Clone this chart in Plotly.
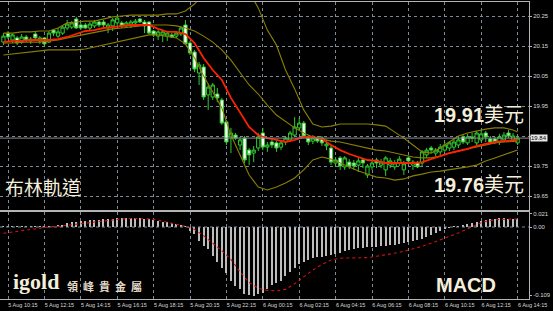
import plotly.graph_objects as go

# ---------------- data ----------------
opens = [20.163, 20.193, 20.170, 20.177, 20.163, 20.180, 20.167, 20.190, 20.167, 20.177,
         20.163, 20.203, 20.183, 20.193, 20.210, 20.213, 20.240, 20.220, 20.220, 20.210,
         20.217, 20.230, 20.230, 20.210, 20.217, 20.227, 20.227, 20.217, 20.217, 20.227,
         20.240, 20.230, 20.230, 20.200, 20.183, 20.187, 20.183, 20.187, 20.183, 20.190,
         20.220, 20.160, 20.130, 20.060, 20.080, 19.987, 19.980, 19.990, 19.970, 19.897,
         19.847, 19.853, 19.820, 19.843, 19.803, 19.793, 19.810, 19.860, 19.813, 19.830,
         19.827, 19.813, 19.830, 19.837, 19.853, 19.877, 19.893, 19.843, 19.833, 19.843,
         19.843, 19.817, 19.810, 19.760, 19.777, 19.747, 19.763, 19.760, 19.753, 19.770,
         19.720, 19.747, 19.770, 19.753, 19.737, 19.753, 19.747, 19.760, 19.737, 19.777,
         19.753, 19.760, 19.760, 19.787, 19.810, 19.793, 19.797, 19.803, 19.810, 19.813,
         19.820, 19.847, 19.827, 19.847, 19.827, 19.837, 19.860, 19.840, 19.840, 19.830,
         19.837, 19.860, 19.837, 19.827]
highs = [20.193, 20.200, 20.193, 20.183, 20.190, 20.187, 20.180, 20.197, 20.183, 20.180,
         20.200, 20.207, 20.210, 20.220, 20.237, 20.233, 20.247, 20.227, 20.227, 20.230,
         20.237, 20.233, 20.237, 20.227, 20.243, 20.253, 20.233, 20.233, 20.237, 20.240,
         20.243, 20.237, 20.233, 20.203, 20.203, 20.203, 20.200, 20.193, 20.200, 20.217,
         20.237, 20.167, 20.137, 20.097, 20.090, 20.023, 20.027, 20.010, 19.977, 19.903,
         19.877, 19.860, 19.847, 19.850, 19.810, 19.817, 19.860, 19.877, 19.830, 19.837,
         19.833, 19.837, 19.850, 19.867, 19.913, 19.910, 19.900, 19.853, 19.853, 19.850,
         19.850, 19.837, 19.820, 19.780, 19.783, 19.783, 19.773, 19.770, 19.777, 19.777,
         19.757, 19.770, 19.777, 19.773, 19.783, 19.777, 19.770, 19.783, 19.767, 19.783,
         19.770, 19.767, 19.803, 19.810, 19.817, 19.810, 19.823, 19.830, 19.833, 19.843,
         19.850, 19.857, 19.857, 19.860, 19.867, 19.870, 19.867, 19.850, 19.847, 19.857,
         19.863, 19.870, 19.860, 19.853]
lows = [20.153, 20.173, 20.160, 20.153, 20.157, 20.163, 20.157, 20.170, 20.157, 20.147,
        20.160, 20.183, 20.177, 20.187, 20.203, 20.207, 20.207, 20.203, 20.207, 20.203,
        20.210, 20.213, 20.213, 20.193, 20.200, 20.213, 20.210, 20.210, 20.210, 20.220,
        20.227, 20.193, 20.190, 20.180, 20.170, 20.163, 20.167, 20.177, 20.177, 20.183,
        20.153, 20.120, 20.063, 20.020, 19.970, 19.937, 19.970, 19.963, 19.887, 19.820,
        19.793, 19.837, 19.803, 19.760, 19.753, 19.763, 19.800, 19.803, 19.797, 19.810,
        19.797, 19.803, 19.820, 19.830, 19.847, 19.870, 19.843, 19.820, 19.823, 19.827,
        19.817, 19.803, 19.753, 19.747, 19.737, 19.737, 19.740, 19.737, 19.730, 19.743,
        19.710, 19.737, 19.743, 19.743, 19.717, 19.743, 19.737, 19.750, 19.720, 19.760,
        19.737, 19.743, 19.750, 19.777, 19.793, 19.783, 19.787, 19.797, 19.800, 19.803,
        19.810, 19.823, 19.820, 19.830, 19.817, 19.830, 19.830, 19.823, 19.823, 19.820,
        19.830, 19.843, 19.830, 19.820]
closes = [20.183, 20.180, 20.187, 20.160, 20.180, 20.170, 20.173, 20.177, 20.177, 20.157,
          20.193, 20.193, 20.197, 20.213, 20.223, 20.227, 20.210, 20.210, 20.210, 20.223,
          20.230, 20.220, 20.220, 20.220, 20.237, 20.243, 20.217, 20.227, 20.230, 20.233,
          20.230, 20.217, 20.193, 20.187, 20.197, 20.197, 20.193, 20.180, 20.193, 20.210,
          20.157, 20.127, 20.073, 20.087, 19.980, 20.013, 20.020, 19.977, 19.893, 19.830,
          19.860, 19.843, 19.837, 19.770, 19.787, 19.803, 19.847, 19.813, 19.820, 19.820,
          19.810, 19.827, 19.843, 19.860, 19.880, 19.893, 19.850, 19.830, 19.843, 19.833,
          19.827, 19.823, 19.763, 19.770, 19.750, 19.777, 19.750, 19.750, 19.767, 19.760,
          19.750, 19.760, 19.760, 19.763, 19.777, 19.767, 19.760, 19.773, 19.757, 19.767,
          19.763, 19.747, 19.797, 19.803, 19.803, 19.803, 19.813, 19.820, 19.827, 19.830,
          19.837, 19.830, 19.847, 19.843, 19.860, 19.857, 19.847, 19.830, 19.830, 19.847,
          19.853, 19.850, 19.850, 19.843]
candle_idx = list(range(len(opens)))  # 15-minute bars, 5 Aug 10:00 ... 6 Aug 14:15

# indicator samples (every other bar + last bar)
line_idx = list(range(0, 113, 2)) + [113]
bb_upper = [20.193, 20.193, 20.197, 20.197, 20.200, 20.200, 20.210, 20.227, 20.230, 20.233,
            20.233, 20.240, 20.247, 20.250, 20.253, 20.253, 20.253, 20.253, 20.257, 20.257,
            20.267, 20.290, 20.323, 20.350, 20.370, 20.377, 20.363, 20.330, 20.277, 20.203,
            20.153, 20.070, 20.007, 19.937, 19.890, 19.880, 19.883, 19.890, 19.890, 19.890,
            19.890, 19.887, 19.883, 19.863, 19.843, 19.820, 19.797, 19.793, 19.810, 19.830,
            19.850, 19.860, 19.867, 19.873, 19.877, 19.877, 19.870, 19.863]
bb_middle = [20.160, 20.160, 20.163, 20.163, 20.163, 20.167, 20.170, 20.177, 20.183, 20.190,
             20.197, 20.203, 20.207, 20.210, 20.213, 20.217, 20.220, 20.220, 20.220, 20.217,
             20.210, 20.200, 20.183, 20.163, 20.137, 20.103, 20.063, 20.020, 19.990, 19.953,
             19.920, 19.897, 19.877, 19.860, 19.847, 19.840, 19.833, 19.830, 19.823, 19.817,
             19.810, 19.803, 19.800, 19.793, 19.787, 19.780, 19.777, 19.777, 19.783, 19.793,
             19.800, 19.807, 19.813, 19.820, 19.827, 19.830, 19.833, 19.833]
bb_lower = [20.120, 20.123, 20.127, 20.130, 20.133, 20.137, 20.137, 20.137, 20.137, 20.140,
            20.147, 20.153, 20.160, 20.167, 20.173, 20.180, 20.187, 20.187, 20.183, 20.177,
            20.157, 20.110, 20.050, 19.997, 19.943, 19.853, 19.787, 19.720, 19.680, 19.670,
            19.680, 19.693, 19.710, 19.737, 19.770, 19.780, 19.773, 19.760, 19.747, 19.733,
            19.723, 19.713, 19.710, 19.703, 19.707, 19.717, 19.723, 19.730, 19.733, 19.737,
            19.743, 19.747, 19.753, 19.767, 19.777, 19.787, 19.797, 19.803]
ma_red = [20.163, 20.167, 20.167, 20.170, 20.170, 20.170, 20.173, 20.180, 20.190, 20.200,
          20.203, 20.210, 20.213, 20.217, 20.220, 20.220, 20.220, 20.207, 20.197, 20.197,
          20.190, 20.160, 20.110, 20.070, 20.037, 19.977, 19.927, 19.880, 19.853, 19.843,
          19.837, 19.830, 19.837, 19.847, 19.847, 19.840, 19.820, 19.803, 19.790, 19.780,
          19.770, 19.767, 19.760, 19.760, 19.760, 19.760, 19.763, 19.773, 19.783, 19.793,
          19.800, 19.807, 19.817, 19.823, 19.830, 19.833, 19.837, 19.837]

macd_hist = [0.0005, 0.0005, 0.0006, 0.0006, 0.0007, 0.0007, 0.0008, 0.0008, 0.0009, 0.0010,
             0.0012, 0.0016, 0.0021, 0.0040, 0.0064, 0.0074, 0.0083, 0.0094, 0.0102, 0.0108,
             0.0113, 0.0118, 0.0122, 0.0127, 0.0133, 0.0138, 0.0139, 0.0140, 0.0140, 0.0140,
             0.0139, 0.0134, 0.0125, 0.0110, 0.0098, 0.0088, 0.0075, 0.0062, 0.0050, 0.0035,
             0.0010, -0.0064, -0.0120, -0.0220, -0.0300, -0.0360, -0.0460, -0.0560, -0.0660, -0.0740,
             -0.0870, -0.0950, -0.1000, -0.1075, -0.1090, -0.1100, -0.1080, -0.1060, -0.1000, -0.0930,
             -0.0900, -0.0860, -0.0790, -0.0720, -0.0650, -0.0600, -0.0560, -0.0530, -0.0500, -0.0485,
             -0.0480, -0.0470, -0.0450, -0.0430, -0.0410, -0.0390, -0.0370, -0.0355, -0.0340, -0.0340,
             -0.0325, -0.0320, -0.0320, -0.0305, -0.0300, -0.0290, -0.0282, -0.0275, -0.0260, -0.0245,
             -0.0230, -0.0210, -0.0185, -0.0160, -0.0125, -0.0090, -0.0060, -0.0030, -0.0010, 0.0003,
             0.0008, 0.0021, 0.0045, 0.0065, 0.0085, 0.0103, 0.0115, 0.0128, 0.0135, 0.0139,
             0.0139, 0.0135, 0.0130, 0.0128]
macd_signal = [-0.0100, -0.0080, -0.0060, -0.0040, -0.0015, 0.0000, 0.0010, 0.0022, 0.0045, 0.0062,
               0.0080, 0.0100, 0.0118, 0.0130, 0.0137, 0.0139, 0.0130, 0.0110, 0.0080, 0.0045,
               0.0010, -0.0040, -0.0140, -0.0260, -0.0380, -0.0520, -0.0720, -0.0890, -0.0980, -0.1015,
               -0.1025, -0.1000, -0.0910, -0.0800, -0.0690, -0.0600, -0.0530, -0.0500, -0.0500, -0.0500,
               -0.0490, -0.0470, -0.0450, -0.0420, -0.0390, -0.0355, -0.0310, -0.0260, -0.0210, -0.0150,
               -0.0095, -0.0030, 0.0040, 0.0090, 0.0115, 0.0124, 0.0128, 0.0128]

tick_idx = list(range(1, 114, 8))
tick_labels = ["5 Aug 10:15", "5 Aug 12:15", "5 Aug 14:15", "5 Aug 16:15", "5 Aug 18:15",
               "5 Aug 20:15", "5 Aug 22:15", "6 Aug 00:15", "6 Aug 02:15", "6 Aug 04:15",
               "6 Aug 06:15", "6 Aug 08:15", "6 Aug 10:15", "6 Aug 12:15", "6 Aug 14:15"]
price_ticks = [20.25, 20.15, 20.05, 19.95, 19.85, 19.75, 19.65]
price_tick_text = ["20.25", "20.15", "20.05", "19.95", "", "19.75", "19.65"]
macd_ticks = [0.021, 0.0, -0.109]
macd_tick_text = ["0.021", "0.00", "-0.109"]

# ---------------- figure ----------------
W, H = 553, 311
def fy(px):
    return 1 - px / H

GREEN = "#2ecc2e"
OLIVE = "#8a8000"
GRID = "#7d8a98"
FRAME = "#b4b4b4"
TXT = "#d8d8d8"
CREAM = "#f4efdc"

fig = go.Figure()
fig.add_trace(go.Candlestick(
    x=candle_idx, open=opens, high=highs, low=lows, close=closes,
    increasing=dict(line=dict(color=GREEN, width=1), fillcolor="#000000"),
    decreasing=dict(line=dict(color=GREEN, width=1), fillcolor="#ffffff"),
    whiskerwidth=0, xaxis="x", yaxis="y", hoverinfo="skip"))
for band in (bb_upper, bb_middle, bb_lower):
    fig.add_trace(go.Scatter(x=line_idx, y=band, mode="lines",
                             line=dict(color=OLIVE, width=1.1), xaxis="x", yaxis="y"))
fig.add_trace(go.Scatter(x=line_idx, y=ma_red, mode="lines",
                         line=dict(color="#ff2200", width=1.8), xaxis="x", yaxis="y"))

fig.add_trace(go.Bar(x=candle_idx, y=macd_hist, width=0.28,
                     marker=dict(color="#bcbcbc", line=dict(width=0)),
                     xaxis="x2", yaxis="y2"))
fig.add_trace(go.Scatter(x=line_idx, y=macd_signal, mode="lines",
                         line=dict(color="#d01010", width=1.1, dash="dot"),
                         xaxis="x2", yaxis="y2"))

x_left = -3.45 / 4.55
x_right = (529 - 3.45) / 4.55
xdom = [0, 529 / W]
main_top, main_bot = 2, 210
macd_top, macd_bot = 212, 299

def px_to_price(px):
    return 20.25 - (px - 16) / 300.0

def px_to_macd(px):
    return (227 - px) / 624.0

common_x = dict(range=[x_left, x_right], domain=xdom, tickvals=tick_idx, automargin=False,
                showgrid=True, gridcolor=GRID, griddash="dot", gridwidth=1,
                zeroline=False, showline=True, mirror=True, linecolor=FRAME, linewidth=1)

fig.update_layout(
    width=W, height=H, margin=dict(l=0, r=0, t=0, b=0, autoexpand=False),
    paper_bgcolor="#000000", plot_bgcolor="#000000",
    showlegend=False, hovermode=False, boxgap=0.2, boxgroupgap=0.1, bargap=0,
    xaxis=dict(**common_x, anchor="y", showticklabels=False,
               rangeslider=dict(visible=False)),
    yaxis=dict(domain=[fy(main_bot), fy(main_top)], automargin=False,
               range=[px_to_price(main_bot), px_to_price(main_top)],
               side="right", anchor="x", tickvals=price_ticks, ticktext=price_tick_text,
               showgrid=True, gridcolor=GRID, griddash="dot", zeroline=False,
               showline=True, linecolor=FRAME, ticks="outside", ticklen=2, tickcolor=FRAME,
               tickfont=dict(size=6, color=TXT, family="Liberation Sans")),
    xaxis2=dict(**common_x, anchor="y2", ticktext=tick_labels, ticks="",
                tickfont=dict(size=5.5, color=TXT, family="Liberation Sans"),
                ticklabelshift=15, ticklabelstandoff=0),
    yaxis2=dict(domain=[fy(macd_bot), fy(macd_top)], automargin=False,
                range=[px_to_macd(macd_bot), px_to_macd(macd_top)],
                side="right", anchor="x2", tickvals=macd_ticks, ticktext=macd_tick_text,
                showgrid=False, zeroline=False, showline=True, linecolor=FRAME,
                ticks="outside", ticklen=2, tickcolor=FRAME,
                tickfont=dict(size=6, color=TXT, family="Liberation Sans")),
)

# current price line and zero level
fig.add_shape(type="line", xref="x domain", yref="y", x0=0, x1=1,
              y0=closes[-1], y1=closes[-1], line=dict(color="#8c8c8c", width=1))
fig.add_shape(type="line", xref="x2 domain", yref="y2", x0=0, x1=1, y0=0, y1=0,
              line=dict(color=GRID, width=1, dash="dot"))

# price box
fig.add_annotation(xref="paper", yref="y", x=530 / W, y=closes[-1], xanchor="left",
                   yanchor="middle", text=f"{closes[-1]:.2f}", showarrow=False,
                   bgcolor="#e6e6e6", borderpad=0,
                   font=dict(size=6, color="#000000", family="Liberation Sans"))

big_font = "Liberation Sans, Noto Sans CJK TC"
fig.add_annotation(xref="paper", yref="paper", x=3 / W, y=fy(186), xanchor="left",
                   yanchor="middle", text="布林軌道", showarrow=False,
                   font=dict(size=19, color=CREAM, family="Noto Sans CJK TC"))
fig.add_annotation(xref="paper", yref="paper", x=432 / W, y=fy(115), xanchor="left",
                   yanchor="middle", text="<b>19.91</b>美元", showarrow=False,
                   font=dict(size=20, color=CREAM, family=big_font))
fig.add_annotation(xref="paper", yref="paper", x=432 / W, y=fy(185), xanchor="left",
                   yanchor="middle", text="<b>19.76</b>美元", showarrow=False,
                   font=dict(size=20, color=CREAM, family=big_font))
fig.add_annotation(xref="paper", yref="paper", x=434 / W, y=fy(285), xanchor="left",
                   yanchor="middle", text="<b>MACD</b>", showarrow=False,
                   font=dict(size=20, color=CREAM, family="Liberation Sans"))

# logo
fig.add_annotation(xref="paper", yref="paper", x=11 / W, y=fy(281), xanchor="left",
                   yanchor="middle", text="<b>igold</b>", showarrow=False,
                   font=dict(size=22, color=CREAM, family="Liberation Serif"))
logo_chars = "領峰貴金屬"
for k, ch in enumerate(logo_chars):
    fig.add_annotation(xref="paper", yref="paper", x=(72 + 16 * k) / W, y=fy(286),
                       xanchor="center", yanchor="middle", text=f"<b>{ch}</b>",
                       showarrow=False,
                       font=dict(size=11, color="#e4dccb", family="Noto Sans CJK TC"))

fig.write_html("out.html")
